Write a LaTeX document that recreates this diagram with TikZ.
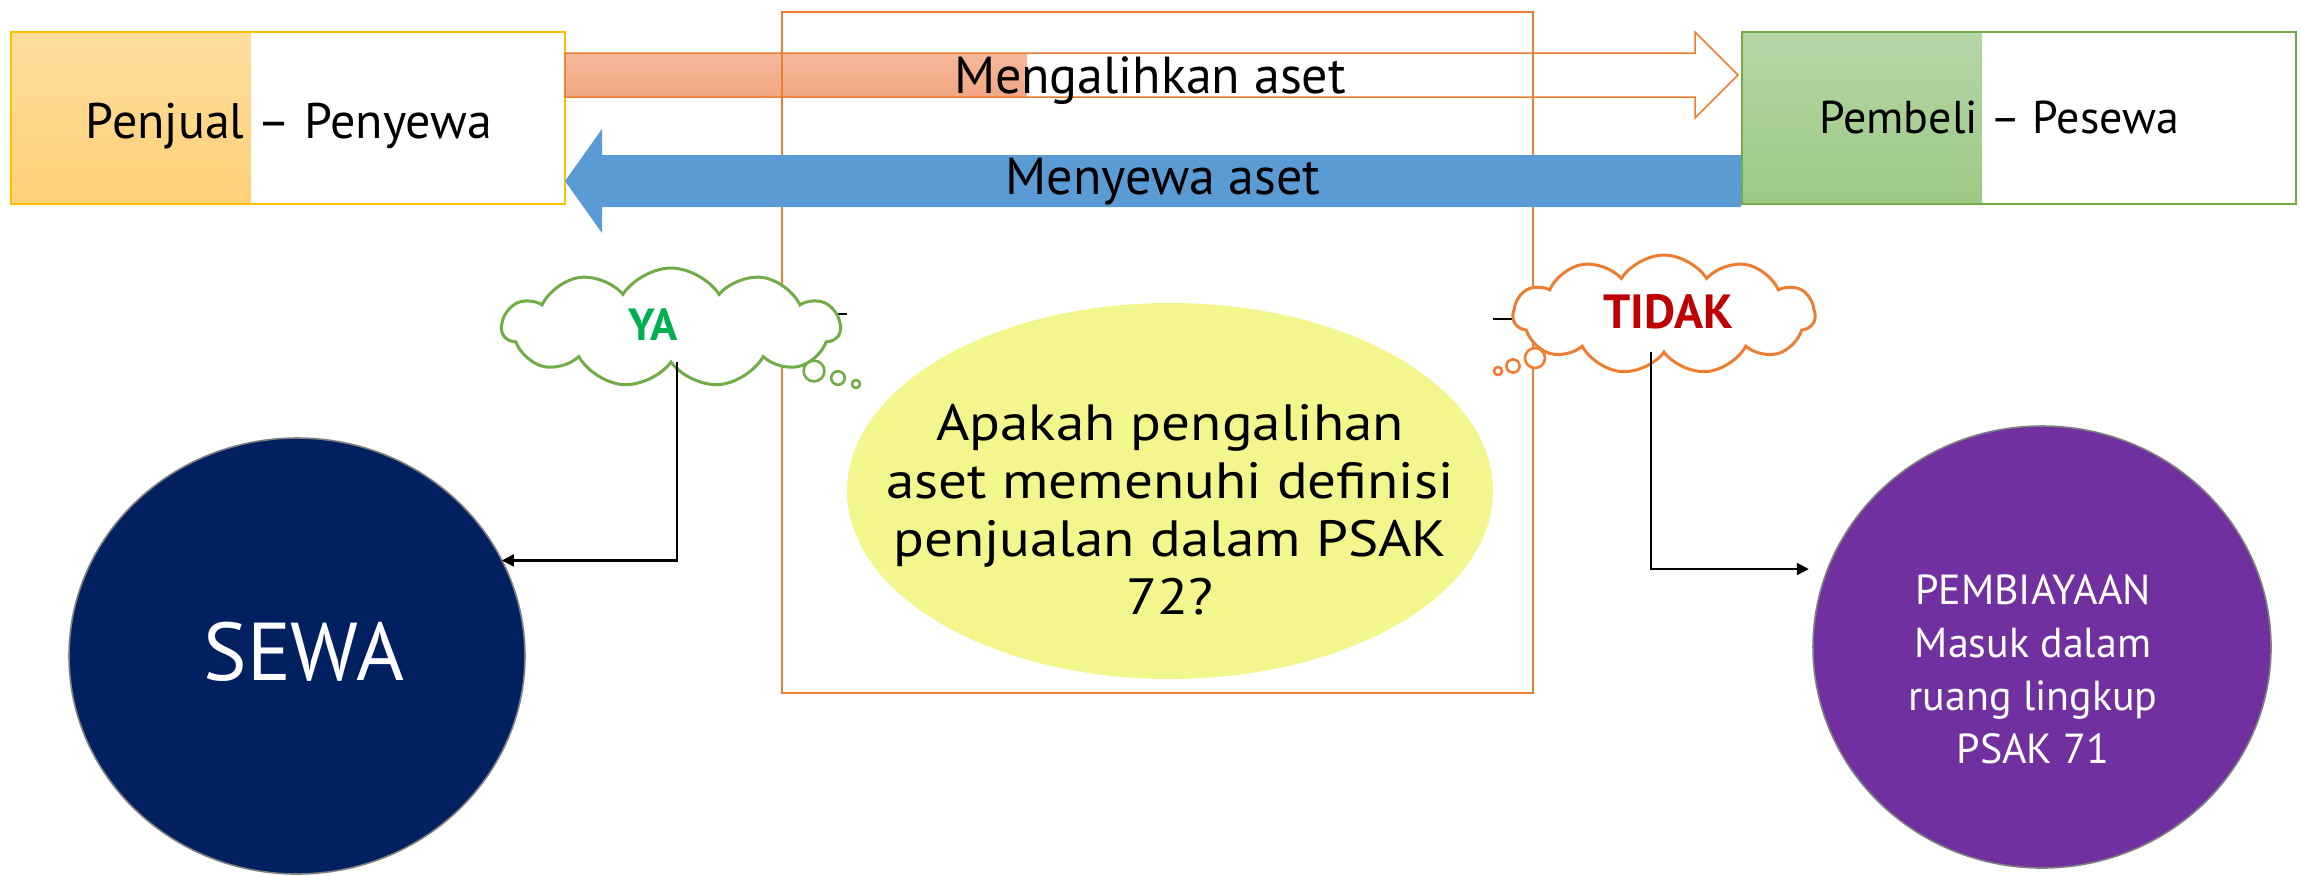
\documentclass[tikz,border=0pt]{standalone}
\usepackage{fontspec}
\setmainfont{PT Sans}
\newfontfamily\widesans[FakeStretch=1.12]{PT Sans}
\usetikzlibrary{shapes.geometric,shapes.symbols,arrows.meta}
\definecolor{cOrange}{HTML}{ED7D31}
\definecolor{cGreen}{HTML}{70AD47}
\definecolor{cGold}{HTML}{FFC000}
\definecolor{cBlue}{HTML}{5B9BD5}
\definecolor{cYellow}{HTML}{F3F68C}
\definecolor{cNavy}{HTML}{002060}
\definecolor{cPurple}{HTML}{7030A0}
\definecolor{cGray}{HTML}{808080}
\definecolor{cYa}{HTML}{00B050}
\definecolor{cTidak}{HTML}{C00000}
\definecolor{goldTop}{RGB}{254,221,156}
\definecolor{goldBot}{RGB}{255,209,120}
\definecolor{greenTop}{RGB}{182,214,166}
\definecolor{greenBot}{RGB}{157,201,132}
\definecolor{salTop}{RGB}{245,184,156}
\definecolor{salBot}{RGB}{242,166,130}
\tikzset{
  partybox/.style={draw, line width=0.6pt, inner sep=0pt, outer sep=0pt, minimum width=277pt, minimum height=86pt},
  lbl/.style={inner sep=0pt, outer sep=0pt, anchor=base, text=black},
  bigcircle/.style={ellipse, draw=cGray, line width=0.8pt, inner sep=0pt, outer sep=0pt, text=white, align=center},
  thought/.style={cloud, cloud puffs=11, cloud puff arc=115, cloud ignores aspect, fill=white, line width=1.5pt, inner sep=0pt, outer sep=0pt},
  bubble/.style={fill=white, line width=1.3pt},
  conn/.style={draw=black, line width=1.2pt, -{Triangle[length=6pt,width=6pt]}},
}
\begin{document}
\begin{tikzpicture}[x=0.5pt,y=-0.5pt]
\useasboundingbox (0,0) rectangle (2300,875);

% party boxes
\fill[top color=goldTop, bottom color=goldBot] (11,32) rectangle (251,204);
\fill[top color=greenTop, bottom color=greenBot] (1741,32) rectangle (1982,204);
\node[partybox, draw=cGold] (seller) at (288,118) {};
\node[partybox, draw=cGreen] (buyer) at (2019,118) {};
\node[lbl, font=\fontsize{25pt}{30pt}\selectfont] (sellerlbl) at (289,138) {Penjual – Penyewa};
\node[lbl, font=\fontsize{23pt}{28pt}\selectfont] (buyerlbl) at (1999,133) {Pembeli – Pesewa};

% hollow transfer arrow
\fill[top color=salTop, bottom color=salBot] (565,53) rectangle (1027,97);
\draw[cOrange, line width=0.75pt, line join=miter]
  (565,53) -- (1695,53) -- (1695,32) -- (1738,75) -- (1695,118) -- (1695,97) -- (565,97) -- cycle;

% frame
\node[draw=cOrange, line width=1pt, inner sep=0pt, outer sep=0pt,
      minimum width=375.5pt, minimum height=340.5pt] (frame) at (1157.5,352.5) {};

% blue lease arrow
\fill[cBlue] (1741,155) -- (602,155) -- (602,129) -- (565,181) -- (602,233) -- (602,207) -- (1741,207) -- cycle;

\node[lbl, font=\fontsize{26pt}{30pt}\selectfont] (transferlbl) at (1150,93) {Mengalihkan aset};
\node[lbl, font=\fontsize{26pt}{30pt}\selectfont] (leaselbl) at (1163,194) {Menyewa aset};

% question ellipse
\node[ellipse, fill=cYellow, inner sep=0pt, outer sep=0pt,
      minimum width=323pt, minimum height=188pt] (question) at (1170,491) {};
\node[inner sep=0pt, align=center, font=\widesans\fontsize{25.5pt}{29pt}\selectfont] (questionlbl) at (1170,510)
  {Apakah pengalihan\\aset memenuhi definisi\\penjualan dalam PSAK\\72?};

% small dashes
\draw[black, line width=1pt] (833,314) -- (847,314);
\draw[black, line width=1pt] (1493,319) -- (1513,319);

% thought clouds
\node[thought, draw=cGreen, minimum width=169pt, minimum height=59.5pt] (ya) at (671,327.5) {};
\draw[bubble, draw=cGreen] (814,371) circle[radius=5.2pt];
\draw[bubble, draw=cGreen] (838,378) circle[radius=3.4pt];
\draw[bubble, draw=cGreen] (856,384) circle[radius=2pt];
\node[lbl, text=cYa, font=\bfseries\fontsize{22.5pt}{26pt}\selectfont] (yalbl) at (653,340) {YA};

\node[thought, draw=cOrange, minimum width=151pt, minimum height=59.5pt] (tidak) at (1664,314.5) {};
\draw[bubble, draw=cOrange] (1535,358) circle[radius=5pt];
\draw[bubble, draw=cOrange] (1513,366) circle[radius=3.3pt];
\draw[bubble, draw=cOrange] (1498,371) circle[radius=2pt];
\node[lbl, text=cTidak, font=\bfseries\fontsize{24pt}{28pt}\selectfont] (tidaklbl) at (1668,328) {TIDAK};

% outcome circles
\node[bigcircle, fill=cNavy, minimum width=228pt, minimum height=218pt] (sewa) at (297,656) {};
\node[lbl, text=white, font=\fontsize{41pt}{48pt}\selectfont] (sewalbl) at (304,680) {SEWA};

\node[bigcircle, fill=cPurple, minimum width=229pt, minimum height=221pt] (pemb) at (2042,647) {};
\node[inner sep=0pt, align=center, text=white, font=\fontsize{21pt}{26.5pt}\selectfont] (pemblbl) at (2033,669)
  {PEMBIAYAAN\\Masuk dalam\\ruang lingkup\\PSAK 71};

% connectors
\draw[conn] ([xshift=3pt]ya.south) |- (sewa.25);
\draw[conn, shorten >=9.5pt] ([xshift=-6.5pt]tidak.south) |- (pemb.160);
\end{tikzpicture}
\end{document}
